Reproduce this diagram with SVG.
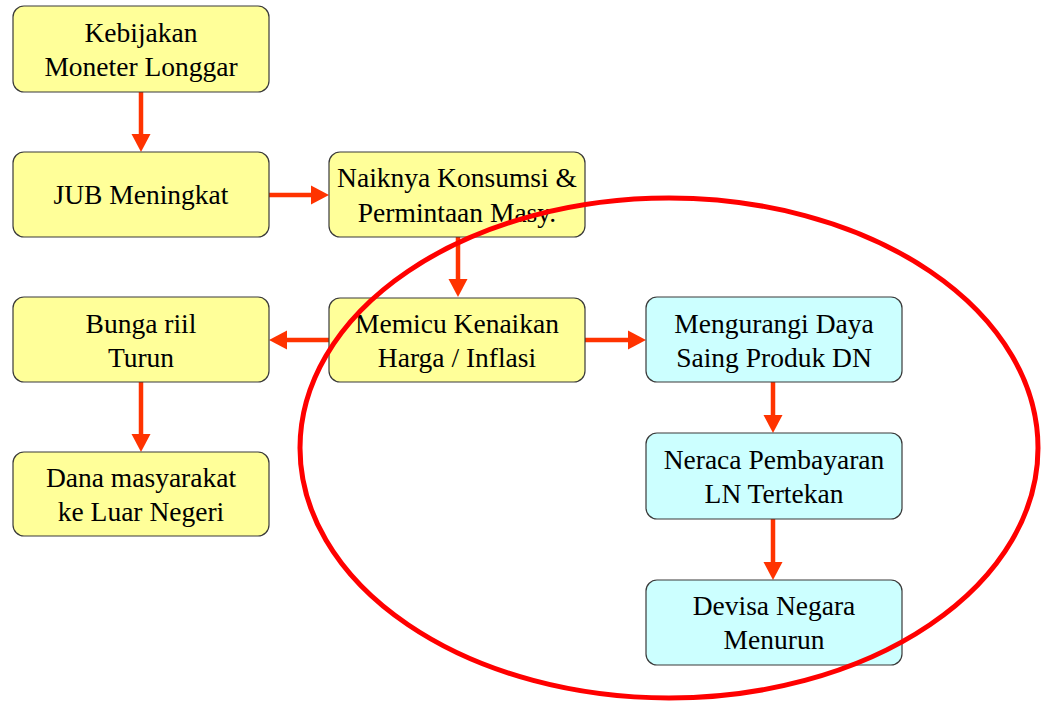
<svg xmlns="http://www.w3.org/2000/svg" width="1041" height="702" viewBox="0 0 1041 702">
<style>
.box{stroke:#3a3a3a;stroke-width:1.2}
.y{fill:#FFFF99}
.c{fill:#CCFFFF}
.t{font-family:"Liberation Serif","Times New Roman",serif;font-size:27.5px;fill:#000;text-anchor:middle}
.ar{stroke:#FF3300;stroke-width:4.5;fill:none;marker-end:url(#ah)}
</style>
<defs>
<marker id="ah" markerUnits="userSpaceOnUse" markerWidth="20" markerHeight="20" refX="0" refY="9.5" orient="auto" overflow="visible">
<path d="M0,0 L18,9.5 L0,19 z" fill="#FF3300"/>
</marker>
</defs>
<rect width="1041" height="702" fill="#fff"/>
<g id="connectors">
<path class="ar" d="M141,92 L141,134"/>
<path class="ar" d="M269,195 L311,195"/>
<path class="ar" d="M458,237 L458,279"/>
<path class="ar" d="M329,340 L287,340"/>
<path class="ar" d="M585,340 L628,340"/>
<path class="ar" d="M141,382 L141,434"/>
<path class="ar" d="M773,382 L773,415"/>
<path class="ar" d="M773,519 L773,562"/>
</g>
<g id="n1"><rect class="box y" x="13" y="6" width="256" height="86" rx="11"/><text class="t" x="141" y="42">Kebijakan</text><text class="t" x="141" y="76">Moneter Longgar</text></g>
<g id="n2"><rect class="box y" x="13" y="152" width="256" height="85" rx="11"/><text class="t" x="141" y="204">JUB Meningkat</text></g>
<g id="n3"><rect class="box y" x="329" y="152" width="256" height="85" rx="11"/><text class="t" x="457" y="187">Naiknya Konsumsi &amp;</text><text class="t" x="457" y="222">Permintaan Masy.</text></g>
<g id="n4"><rect class="box y" x="329" y="298" width="256" height="84" rx="11"/><text class="t" x="457" y="333">Memicu Kenaikan</text><text class="t" x="457" y="367">Harga / Inflasi</text></g>
<g id="n5"><rect class="box y" x="13" y="297" width="256" height="85" rx="11"/><text class="t" x="141" y="333">Bunga riil</text><text class="t" x="141" y="367">Turun</text></g>
<g id="n6"><rect class="box y" x="13" y="452" width="256" height="84" rx="11"/><text class="t" x="141" y="487">Dana masyarakat</text><text class="t" x="141" y="521">ke Luar Negeri</text></g>
<g id="n7"><rect class="box c" x="646" y="297" width="256" height="85" rx="11"/><text class="t" x="774" y="333">Mengurangi Daya</text><text class="t" x="774" y="367">Saing Produk DN</text></g>
<g id="n8"><rect class="box c" x="646" y="433" width="256" height="86" rx="11"/><text class="t" x="774" y="469">Neraca Pembayaran</text><text class="t" x="774" y="503">LN Tertekan</text></g>
<g id="n9"><rect class="box c" x="646" y="580" width="256" height="85" rx="11"/><text class="t" x="774" y="615">Devisa Negara</text><text class="t" x="774" y="649">Menurun</text></g>
<ellipse id="highlight" cx="669" cy="448" rx="369" ry="250" fill="none" stroke="#FF0000" stroke-width="5"/>
</svg>
